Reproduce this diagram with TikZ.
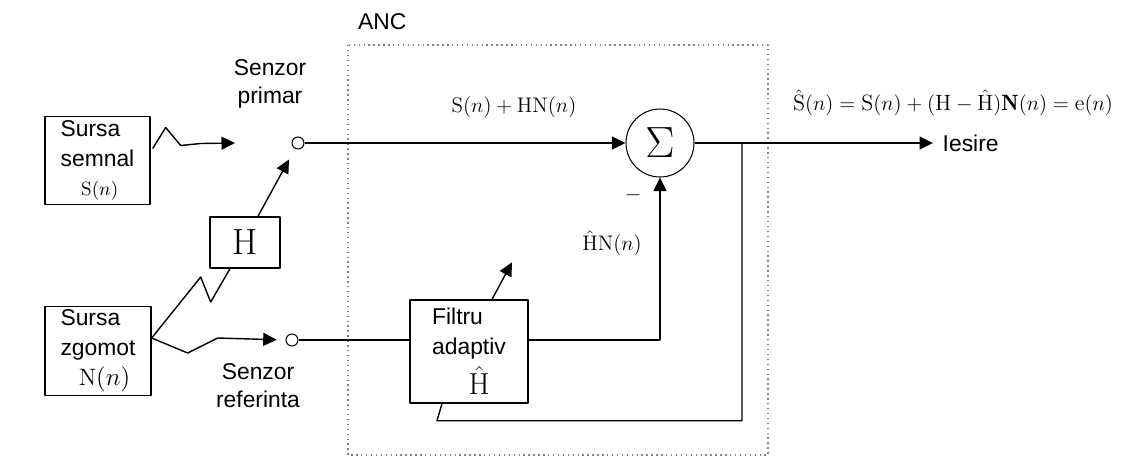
\documentclass[tikz,border=0pt]{standalone}
\usepackage{fontspec}
\setsansfont{Liberation Sans}
\usetikzlibrary{arrows.meta,calc}
\providecommand{\ancLineWidth}{0.8pt}
\providecommand{\ancBoxColor}{black!50}
\tikzset{
  blok/.style={draw, line width=\ancLineWidth, inner sep=2pt, font=\sffamily\fontsize{13}{17}\selectfont},
  senzor/.style={draw, circle, fill=white, inner sep=0pt, minimum size=0.24cm, line width=0.6pt},
  sumator/.style={draw, circle, inner sep=0pt, minimum size=1.36cm, line width=0.6pt},
  eticheta/.style={font=\sffamily\fontsize{13}{16}\selectfont, align=center},
  formula/.style={font=\fontsize{12}{14}\selectfont},
  conector/.style={line width=\ancLineWidth},
  sageata/.style={conector, -{Triangle[length=0.27cm,width=0.26cm]}},
}
\begin{document}
\begin{tikzpicture}[x=0.02cm, y=-0.02cm, line join=round]
% frame of the picture (1145 x 458 px)
\useasboundingbox (0,0) rectangle (1145,458);
% ANC block
\draw[dotted, \ancBoxColor, line width=0.8pt] (348,45) rectangle (768,455);
\node[eticheta, anchor=south west] (anc) at (352,36) {ANC};
% sources
\node[blok, minimum width=2.1cm, minimum height=1.7cm, align=left] (semnal) at (97.5,160.5)
  {Sursa\\semnal\\\hspace*{0.9em}{\fontsize{11}{13}\selectfont$\mathrm{S}(n)$}};
\node[blok, minimum width=2.12cm, minimum height=1.76cm, align=left] (zgomot) at (98,351)
  {Sursa\\zgomot\\\hspace*{0.8em}{\fontsize{13.5}{14}\selectfont$\mathrm{N}(n)$}};
\node[blok, minimum width=1.4cm, minimum height=1.02cm, font=\huge] (H) at (245,242.5) {$\mathrm{H}$};
% sensors
\node[senzor] (primar) at (298,143) {};
\node[senzor] (referinta) at (292,340) {};
\node[eticheta] (lblprimar) at (270,84) {Senzor\\primar};
\node[eticheta] (lblreferinta) at (258,386) {Senzor\\referinta};
% canceller
\node[sumator, font=\Huge] (sum) at (660,143) {$\Sigma$};
\node[blok, minimum width=2.36cm, minimum height=2.06cm, align=left] (filtru) at (469,351.5)
  {Filtru\\adaptiv\\[3pt]\hspace*{1.6em}{\LARGE$\hat{\mathrm{H}}$}};
\coordinate (tinta) at (235,143);
\coordinate (iesire) at (933,143);
\coordinate (ramura) at (742,143);
% connectors
\draw[sageata] ($(semnal.east)+(2,-12)$) -- ++(13,-21) -- ++(15,18) -- ++(20,-2) -- (tinta);
\draw[conector] ($(zgomot.east)+(0,-13)$) -- ++(49,-61) -- ++(10,25) -- ($(H.south)+(-15,0)$);
\draw[sageata, shorten >=5pt] ($(zgomot.east)+(0,-13)$) -- ++(36,15) -- ++(30,-15) -- (referinta.west);
\draw[sageata, shorten >=7pt] ($(H.north)+(13,0)$) -- (primar);
\draw[sageata] (primar) -- (sum);
\draw[sageata] (sum) -- (iesire);
\draw[conector] (ramura) |- ($(filtru.south)+(-32,17)$) -- ($(filtru.south)+(-27,0)$);
\draw[conector] (referinta) -- (referinta -| filtru.west);
\draw[sageata] (referinta -| filtru.east) -| (sum);
\draw[sageata] ($(filtru.north)+(23,0)$) -- ++(20,-37);
% labels
\node[eticheta, anchor=west] (lbliesire) at ([xshift=2pt]iesire) {Iesire};
\node[formula] (lblsum) at (514,107) {$\mathrm{S}(n)+\mathrm{HN}(n)$};
\node[formula] (lblest) at (612,243) {$\hat{\mathrm{H}}\mathrm{N}(n)$};
\node[formula] (minus) at (633,195) {$-$};
\node[formula, font=\fontsize{12.6}{14}\selectfont] (lblout) at (953,103) {$\hat{\mathrm{S}}(n)=\mathrm{S}(n)+(\mathrm{H}-\hat{\mathrm{H}})\mathbf{N}(n)=\mathrm{e}(n)$};
\end{tikzpicture}
\end{document}
